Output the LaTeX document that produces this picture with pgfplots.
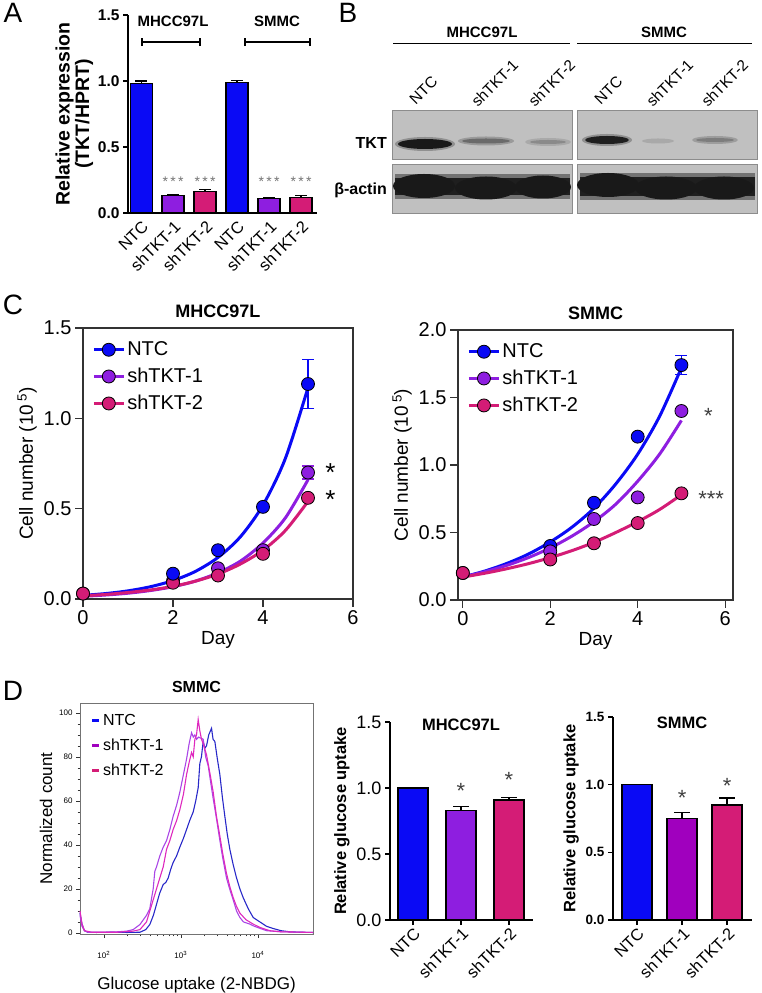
\documentclass[border=0pt]{standalone}
\usepackage{fontspec}
\setmainfont{Liberation Sans}
\usepackage{pgfplots}
\pgfplotsset{compat=1.18}
\newcommand{\fsz}[1]{\fontsize{#1}{#1}\selectfont}
\definecolor{cblue}{RGB}{10,10,245}
\definecolor{cpurple}{RGB}{142,30,224}
\definecolor{cpink}{RGB}{212,28,118}
\definecolor{cpurpleD}{RGB}{160,0,190}
\definecolor{hblue}{RGB}{40,40,200}
\definecolor{hviolet}{RGB}{170,70,230}
\definecolor{hmag}{RGB}{222,40,190}
\definecolor{blotbg}{RGB}{192,192,192}
\pgfplotsset{
  base/.style={scale only axis, anchor=south west, clip=false,
    /pgf/number format/assume math mode=true},
  onedec/.style={yticklabel style={/pgf/number format/fixed,
    /pgf/number format/fixed zerofill, /pgf/number format/precision=1}},
  ptmark/.style={mark=*, mark size=6.5pt, mark options={fill=#1, draw=black, line width=0.8pt}},
}
\begin{document}
\begin{tikzpicture}[x=1pt,y=1pt]
\useasboundingbox (0,0) rectangle (762,993);

%================ A =================
\begin{axis}[base, onedec, at={(128pt,780pt)}, width=189pt, height=198pt,
  xmin=-0.41, xmax=5.5, ymin=0, ymax=1.5,
  axis lines=left, axis line style={-, line width=2.2pt},
  ytick={0,0.5,1,1.5}, tick align=outside, major tick length=5pt,
  every tick/.style={black, line width=2pt},
  xtick={0,1,2,3,4,5}, xticklabels={NTC,shTKT-1,shTKT-2,NTC,shTKT-1,shTKT-2},
  xtick style={draw=none},
  xticklabel style={font=\fsz{16.5}, rotate=45, anchor=north east, inner sep=1pt},
  yticklabel style={font=\fsz{15.5}\bfseries},
  ylabel={Relative expression\\(TKT/HPRT)},
  ylabel style={font=\fsz{19.5}\bfseries, align=center, yshift=-2pt},
  error bars/error bar style={line width=1.2pt, black},
  error bars/error mark options={rotate=90, mark size=6pt, line width=1.2pt, black}]
\addplot[ybar, bar shift=0pt, bar width=22pt, fill=cblue, draw=black, line width=1.2pt,
  error bars/.cd, y dir=plus, y explicit]
  coordinates {(0,0.98) +- (0,0.02) (3,0.99) +- (0,0.012)};
\addplot[ybar, bar shift=0pt, bar width=22pt, fill=cpurple, draw=black, line width=1.2pt,
  error bars/.cd, y dir=plus, y explicit]
  coordinates {(1,0.13) +- (0,0.01) (4,0.11) +- (0,0.006)};
\addplot[ybar, bar shift=0pt, bar width=22pt, fill=cpink, draw=black, line width=1.2pt,
  error bars/.cd, y dir=plus, y explicit]
  coordinates {(2,0.16) +- (0,0.02) (5,0.12) +- (0,0.01)};
\node[font=\fsz{14}, text=black!55] at (axis cs:1,0.24) {*\,*\,*};
\node[font=\fsz{14}, text=black!55] at (axis cs:2,0.24) {*\,*\,*};
\node[font=\fsz{14}, text=black!55] at (axis cs:4,0.24) {*\,*\,*};
\node[font=\fsz{14}, text=black!55] at (axis cs:5,0.24) {*\,*\,*};
\draw[line width=2pt] (axis cs:0.03,1.295) -- (axis cs:1.84,1.295);
\draw[line width=2pt] (axis cs:0.03,1.265) -- (axis cs:0.03,1.325);
\draw[line width=2pt] (axis cs:1.84,1.265) -- (axis cs:1.84,1.325);
\draw[line width=2pt] (axis cs:3.25,1.295) -- (axis cs:5.28,1.295);
\draw[line width=2pt] (axis cs:3.25,1.265) -- (axis cs:3.25,1.325);
\draw[line width=2pt] (axis cs:5.28,1.265) -- (axis cs:5.28,1.325);
\node[font=\fsz{15}\bfseries] at (axis cs:1.0,1.45) {MHCC97L};
\node[font=\fsz{15}\bfseries] at (axis cs:4.25,1.45) {SMMC};
\end{axis}

%================ B =================
\begin{axis}[base, at={(390pt,773pt)}, width=372pt, height=220pt,
  xmin=390, xmax=762, ymin=0, ymax=220, y dir=reverse, hide axis]
\draw[line width=0.9pt] (axis cs:393,43) -- (axis cs:570,43);
\draw[line width=0.9pt] (axis cs:577,43) -- (axis cs:752,43);
\node[font=\fsz{15}\bfseries] at (axis cs:482,32) {MHCC97L};
\node[font=\fsz{15}\bfseries] at (axis cs:664,32) {SMMC};
\node[font=\fsz{15.5}, rotate=45, anchor=south west, inner sep=0pt] at (axis cs:416,106) {NTC};
\node[font=\fsz{15.5}, rotate=45, anchor=south west, inner sep=0pt] at (axis cs:478,108) {shTKT-1};
\node[font=\fsz{15.5}, rotate=45, anchor=south west, inner sep=0pt] at (axis cs:535,108) {shTKT-2};
\node[font=\fsz{15.5}, rotate=45, anchor=south west, inner sep=0pt] at (axis cs:601,106) {NTC};
\node[font=\fsz{15.5}, rotate=45, anchor=south west, inner sep=0pt] at (axis cs:653,108) {shTKT-1};
\node[font=\fsz{15.5}, rotate=45, anchor=south west, inner sep=0pt] at (axis cs:708,108) {shTKT-2};
\node[font=\fsz{16}\bfseries, anchor=east, inner sep=0pt] at (axis cs:387,143) {TKT};
\node[font=\fsz{16}\bfseries, anchor=east, inner sep=0pt] at (axis cs:387,190) {β-actin};
% blot backgrounds
\filldraw[fill=blotbg, draw=black!45, line width=0.8pt] (axis cs:392,110) rectangle (axis cs:572,159);
\filldraw[fill=blotbg, draw=black!45, line width=0.8pt] (axis cs:577,110) rectangle (axis cs:757,159);
\filldraw[fill=blotbg, draw=black!45, line width=0.8pt] (axis cs:392,164) rectangle (axis cs:572,213);
\filldraw[fill=blotbg, draw=black!45, line width=0.8pt] (axis cs:577,164) rectangle (axis cs:757,213);
% TKT bands
\fill[black!25!blotbg] (axis cs:425,144) ellipse [x radius=30pt, y radius=7pt];
\fill[black!90] (axis cs:425,144) ellipse [x radius=27pt, y radius=5pt];
\fill[black!20!blotbg] (axis cs:486,141) ellipse [x radius=28pt, y radius=4.5pt];
\fill[black!45!blotbg] (axis cs:486,141) ellipse [x radius=24pt, y radius=2.5pt];
\fill[black!12!blotbg] (axis cs:548,142) ellipse [x radius=23pt, y radius=4pt];
\fill[black!28!blotbg] (axis cs:548,142) ellipse [x radius=18pt, y radius=2pt];
\fill[black!25!blotbg] (axis cs:607,140) ellipse [x radius=25pt, y radius=6pt];
\fill[black!88] (axis cs:607,140) ellipse [x radius=22pt, y radius=4pt];
\fill[black!12!blotbg] (axis cs:658,141) ellipse [x radius=16pt, y radius=2.5pt];
\fill[black!18!blotbg] (axis cs:715,140) ellipse [x radius=23pt, y radius=4pt];
\fill[black!35!blotbg] (axis cs:715,140) ellipse [x radius=19pt, y radius=2pt];
% beta-actin bands
\fill[black!40!blotbg] (axis cs:395,174) rectangle (axis cs:570,199);
\fill[black!40!blotbg] (axis cs:580,173) rectangle (axis cs:755,200);
\fill[black!88] (axis cs:395,178) rectangle (axis cs:570,195);
\fill[black!88] (axis cs:580,177) rectangle (axis cs:755,196);
\fill[black!90] (axis cs:424,186) ellipse [x radius=31pt, y radius=12pt];
\fill[black!90] (axis cs:486,188) ellipse [x radius=31pt, y radius=11.5pt];
\fill[black!90] (axis cs:543,187) ellipse [x radius=28pt, y radius=11.5pt];
\fill[black!90] (axis cs:608,185) ellipse [x radius=31pt, y radius=12pt];
\fill[black!90] (axis cs:666,188) ellipse [x radius=31pt, y radius=11.5pt];
\fill[black!90] (axis cs:724,188) ellipse [x radius=30pt, y radius=11.5pt];
\end{axis}

%================ C left =================
\begin{axis}[base, onedec, at={(83pt,394pt)}, width=270pt, height=271pt,
  xmin=0, xmax=6, ymin=0, ymax=1.5,
  xtick={0,2,4,6}, ytick={0,0.5,1,1.5}, tick align=outside,
  xtick pos=left, ytick pos=left, major tick length=8pt,
  axis line style={line width=1.2pt, black!80},
  every tick/.style={line width=1.2pt, black!80},
  ticklabel style={font=\fsz{20}},
  title={MHCC97L}, title style={font=\fsz{18}\bfseries, yshift=1pt},
  xlabel={Day}, ylabel={Cell number (10\,\textsuperscript{5})},
  label style={font=\fsz{19}},
  legend style={at={(0.03,0.96)}, anchor=north west, draw=none, fill=none,
    font=\fsz{20}, row sep=7pt, inner sep=1pt},
  legend cell align=left,
  legend image code/.code={\draw[mark repeat=2, mark phase=2, #1] plot coordinates {(0pt,0pt) (15pt,0pt) (30pt,0pt)};},
  error bars/error bar style={line width=1.5pt},
  error bars/error mark options={rotate=90, mark size=6pt, line width=1.5pt}]
\addlegendimage{cblue, line width=3pt, ptmark=cblue}
\addlegendentry{NTC}
\addlegendimage{cpurple, line width=3pt, ptmark=cpurple}
\addlegendentry{shTKT-1}
\addlegendimage{cpink, line width=3pt, ptmark=cpink}
\addlegendentry{shTKT-2}
\addplot[cblue, line width=3pt, smooth, forget plot] coordinates {
 (0,0.020)(0.5,0.030)(1,0.045)(1.5,0.068)(2,0.102)(2.5,0.153)(3,0.230)(3.5,0.345)(4,0.520)(4.5,0.780)(5,1.170)};
\addplot[cpurple, line width=3pt, smooth, forget plot] coordinates {
 (0,0.015)(0.5,0.022)(1,0.032)(1.5,0.047)(2,0.068)(2.5,0.099)(3,0.145)(3.5,0.210)(4,0.310)(4.5,0.450)(5,0.660)};
\addplot[cpink, line width=3pt, smooth, forget plot] coordinates {
 (0,0.018)(0.5,0.025)(1,0.036)(1.5,0.050)(2,0.070)(2.5,0.099)(3,0.138)(3.5,0.194)(4,0.270)(4.5,0.380)(5,0.540)};
\addplot[cblue, only marks, mark=none, forget plot, error bars/.cd, y dir=both, y explicit]
  coordinates {(5,1.19) +- (0,0.135)};
\addplot[cpurple, only marks, mark=none, forget plot, error bars/.cd, y dir=both, y explicit]
  coordinates {(5,0.70) +- (0,0.035)};
\addplot[only marks, ptmark=cpurple, forget plot] coordinates {(0,0.03)(2,0.10)(3,0.17)(4,0.27)(5,0.70)};
\addplot[only marks, ptmark=cpink, forget plot] coordinates {(0,0.03)(2,0.09)(3,0.13)(4,0.25)(5,0.56)};
\addplot[only marks, ptmark=cblue, forget plot] coordinates {(2,0.14)(3,0.27)(4,0.51)(5,1.19)};
\node[font=\fsz{26}] at (axis cs:5.5,0.70) {*};
\node[font=\fsz{26}] at (axis cs:5.5,0.55) {*};
\end{axis}

%================ C right =================
\begin{axis}[base, onedec, at={(458pt,393pt)}, width=275pt, height=270pt,
  xmin=-0.11, xmax=6.18, ymin=0, ymax=2,
  xtick={0,2,4,6}, ytick={0,0.5,1,1.5,2}, tick align=outside,
  xtick pos=left, ytick pos=left, major tick length=8pt,
  axis line style={line width=1.2pt, black!80},
  every tick/.style={line width=1.2pt, black!80},
  ticklabel style={font=\fsz{20}},
  title={SMMC}, title style={font=\fsz{18}\bfseries, yshift=1pt},
  xlabel={Day}, ylabel={Cell number (10\,\textsuperscript{5})},
  label style={font=\fsz{19}},
  legend style={at={(0.03,0.96)}, anchor=north west, draw=none, fill=none,
    font=\fsz{20}, row sep=7pt, inner sep=1pt},
  legend cell align=left,
  legend image code/.code={\draw[mark repeat=2, mark phase=2, #1] plot coordinates {(0pt,0pt) (15pt,0pt) (30pt,0pt)};},
  error bars/error bar style={line width=1.5pt},
  error bars/error mark options={rotate=90, mark size=6pt, line width=1.5pt}]
\addlegendimage{cblue, line width=3pt, ptmark=cblue}
\addlegendentry{NTC}
\addlegendimage{cpurple, line width=3pt, ptmark=cpurple}
\addlegendentry{shTKT-1}
\addlegendimage{cpink, line width=3pt, ptmark=cpink}
\addlegendentry{shTKT-2}
\addplot[cblue, line width=3pt, smooth, forget plot] coordinates {
 (0,0.170)(0.5,0.214)(1,0.270)(1.5,0.340)(2,0.430)(2.5,0.540)(3,0.680)(3.5,0.860)(4,1.080)(4.5,1.360)(5,1.720)};
\addplot[cpurple, line width=3pt, smooth, forget plot] coordinates {
 (0,0.170)(0.5,0.209)(1,0.256)(1.5,0.314)(2,0.386)(2.5,0.474)(3,0.580)(3.5,0.710)(4,0.880)(4.5,1.080)(5,1.330)};
\addplot[cpink, line width=3pt, smooth, forget plot] coordinates {
 (0,0.170)(0.5,0.198)(1,0.231)(1.5,0.269)(2,0.314)(2.5,0.366)(3,0.427)(3.5,0.500)(4,0.580)(4.5,0.670)(5,0.780)};
\addplot[cblue, only marks, mark=none, forget plot, error bars/.cd, y dir=both, y explicit]
  coordinates {(5,1.74) +- (0,0.07)};
\addplot[only marks, ptmark=cblue, forget plot] coordinates {(0,0.20)(2,0.40)(3,0.72)(4,1.21)(5,1.74)};
\addplot[only marks, ptmark=cpurple, forget plot] coordinates {(2,0.36)(3,0.60)(4,0.76)(5,1.40)};
\addplot[only marks, ptmark=cpink, forget plot] coordinates {(0,0.20)(2,0.30)(3,0.42)(4,0.57)(5,0.79)};
\node[font=\fsz{22}, text=black!75] at (axis cs:5.62,1.36) {*};
\node[font=\fsz{22}, text=black!75] at (axis cs:5.68,0.75) {***};
\end{axis}

%================ D histogram =================
\begin{axis}[base, at={(80pt,59pt)}, width=233pt, height=231pt,
  xmode=log, xmin=49, xmax=52000, ymin=-0.5, ymax=104.5,
  axis line style={black!55, line width=0.8pt},
  tick align=outside, xtick pos=left, ytick pos=left,
  ytick={0,20,40,60,80,100}, minor y tick num=3,
  xtick={100,1000,10000},
  xticklabels={10\textsuperscript{2},10\textsuperscript{3},10\textsuperscript{4}},
  ticklabel style={font=\fsz{8}},
  xticklabel style={yshift=-10pt},
  major tick length=4pt, minor tick length=2.5pt,
  every tick/.style={black!80, line width=0.6pt},
  title={SMMC}, title style={font=\fsz{16}\bfseries, yshift=1pt},
  xlabel={Glucose uptake (2-NBDG)}, ylabel={Normalized count},
  xlabel style={yshift=-12pt},
  label style={font=\fsz{17}},
  legend style={at={(0.04,0.965)}, anchor=north west, draw=none, fill=none,
    font=\fsz{16}, row sep=8pt, inner sep=1pt},
  legend cell align=left,
  legend image code/.code={\draw[#1, line width=3.5pt] (0pt,0pt) -- (7pt,0pt);}]
\addlegendimage{cblue}\addlegendentry{NTC}
\addlegendimage{cpurpleD}\addlegendentry{shTKT-1}
\addlegendimage{cpink}\addlegendentry{shTKT-2}
\addplot[hblue, line width=1.1pt, forget plot] coordinates {
(49,9)(52,4)(56,1)(62,0.3)(80,0.2)(120,0.3)(200,0.2)(294,0.3)(350,1.5)(395,3.8)(440,8)(483,13)(530,18)(590,22)(640,23)(685,25)(740,29)(794,32)(880,35)(970,39)(1080,43)(1186,47)(1300,51)(1447,55)(1560,60)(1679,66)(1764,77)(1850,80)(1949,87)(2050,84)(2153,85)(2300,90)(2502,93)(2620,88)(2764,87)(2980,79)(3209,72)(3450,62)(3725,53)(4000,45)(4325,38)(4780,31)(5284,25)(5840,20)(6452,16)(7500,11)(8695,7)(9600,6)(10610,5)(12970,3)(15820,2)(20000,1)(26060,0.5)(35000,0.3)(52000,0.2)};
\addplot[hviolet, line width=1.1pt, forget plot] coordinates {
(49,8)(52,3)(56,1)(62,0.3)(100,0.3)(150,0.5)(197,0.8)(240,1.5)(294,3.8)(358,8)(395,11)(437,20)(459,28)(483,30)(533,35)(590,39)(652,42)(720,47)(794,53)(880,58)(970,64)(1080,72)(1186,79)(1280,86)(1377,91)(1450,89)(1520,90)(1597,88)(1700,89)(1949,88)(2100,80)(2264,76)(2450,68)(2629,61)(2900,52)(3209,42)(3500,34)(3915,25)(4300,20)(4783,15)(5284,10)(5839,7)(6500,5)(7870,4)(9000,3)(12970,1)(20000,0.5)(52000,0.2)};
\addplot[hmag, line width=1.1pt, forget plot] coordinates {
(49,10)(52,4)(56,1)(70,0.3)(150,0.3)(240,0.8)(294,1.5)(358,5)(437,15)(533,25)(590,30)(652,38)(720,42)(794,47)(880,51)(970,56)(1080,63)(1186,72)(1290,78)(1377,82)(1447,80)(1520,88)(1597,90)(1679,97)(1760,92)(1854,88)(1949,86)(2153,81)(2400,72)(2629,64)(2900,53)(3209,44)(3500,36)(3915,27)(4325,21)(4783,16)(5284,12)(5839,9)(7000,6)(8695,4)(10610,2.5)(14320,1)(20000,0.5)(52000,0.2)};
\end{axis}

%================ D bars MHCC97L =================
\begin{axis}[base, onedec, at={(390pt,73pt)}, width=143pt, height=198pt,
  xmin=-0.48, xmax=2.5, ymin=0, ymax=1.5,
  axis lines=left, axis line style={-, line width=2pt},
  ytick={0,0.5,1,1.5}, xtick={0,1,2}, xticklabels={NTC,shTKT-1,shTKT-2},
  tick align=outside, major tick length=5pt,
  every tick/.style={black, line width=1.6pt},
  yticklabel style={font=\fsz{18}},
  xticklabel style={font=\fsz{16.5}, rotate=45, anchor=north east, inner sep=1pt},
  ylabel={Relative glucose uptake}, ylabel style={font=\fsz{16.5}\bfseries},
  error bars/error bar style={line width=1.4pt, black},
  error bars/error mark options={rotate=90, mark size=8pt, line width=1.4pt, black}]
\addplot[ybar, bar shift=0pt, bar width=30pt, fill=cblue, draw=black, line width=1.4pt] coordinates {(0,1.0)};
\addplot[ybar, bar shift=0pt, bar width=30pt, fill=cpurple, draw=black, line width=1.4pt,
  error bars/.cd, y dir=plus, y explicit] coordinates {(1,0.83) +- (0,0.03)};
\addplot[ybar, bar shift=0pt, bar width=30pt, fill=cpink, draw=black, line width=1.4pt,
  error bars/.cd, y dir=plus, y explicit] coordinates {(2,0.91) +- (0,0.02)};
\node[font=\fsz{22}, text=black!75] at (axis cs:1,0.98) {*};
\node[font=\fsz{22}, text=black!75] at (axis cs:2,1.06) {*};
\node[font=\fsz{16.5}\bfseries] at (axis cs:1,1.48) {MHCC97L};
\end{axis}

%================ D bars SMMC =================
\begin{axis}[base, onedec, at={(613pt,73pt)}, width=139pt, height=203pt,
  xmin=-0.53, xmax=2.55, ymin=0, ymax=1.5,
  axis lines=left, axis line style={-, line width=2pt},
  ytick={0,0.5,1,1.5}, xtick={0,1,2}, xticklabels={NTC,shTKT-1,shTKT-2},
  tick align=outside, major tick length=5pt,
  every tick/.style={black, line width=1.6pt},
  yticklabel style={font=\fsz{13.5}\bfseries},
  xticklabel style={font=\fsz{16.5}, rotate=45, anchor=north east, inner sep=1pt},
  ylabel={Relative glucose uptake}, ylabel style={font=\fsz{16.5}\bfseries},
  error bars/error bar style={line width=1.4pt, black},
  error bars/error mark options={rotate=90, mark size=8pt, line width=1.4pt, black}]
\addplot[ybar, bar shift=0pt, bar width=30pt, fill=cblue, draw=black, line width=1.4pt] coordinates {(0,1.0)};
\addplot[ybar, bar shift=0pt, bar width=30pt, fill=cpurpleD, draw=black, line width=1.4pt,
  error bars/.cd, y dir=plus, y explicit] coordinates {(1,0.75) +- (0,0.045)};
\addplot[ybar, bar shift=0pt, bar width=30pt, fill=cpink, draw=black, line width=1.4pt,
  error bars/.cd, y dir=plus, y explicit] coordinates {(2,0.85) +- (0,0.05)};
\node[font=\fsz{22}, text=black!75] at (axis cs:1,0.90) {*};
\node[font=\fsz{22}, text=black!75] at (axis cs:2,0.99) {*};
\node[font=\fsz{16.5}\bfseries] at (axis cs:1,1.46) {SMMC};
\end{axis}

%================ panel letters =================
\node[font=\fsz{28}] at (13,980) {A};
\node[font=\fsz{28}] at (348,980) {B};
\node[font=\fsz{28}] at (13,688) {C};
\node[font=\fsz{28}] at (13,302) {D};
\end{tikzpicture}
\end{document}
